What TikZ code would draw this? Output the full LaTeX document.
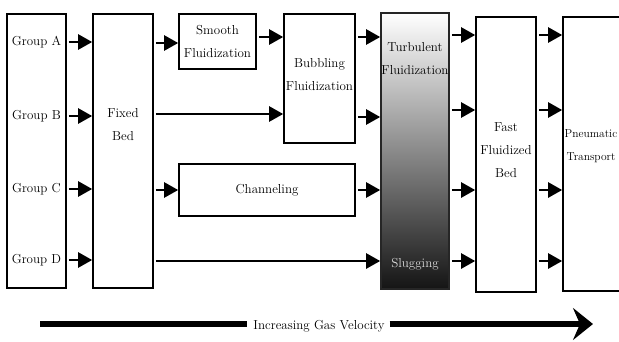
\documentclass[tikz,border=0pt]{standalone}
\usetikzlibrary{arrows.meta}
\begin{document}
\begin{tikzpicture}[x=1pt,y=-1pt,
  box/.style={draw=black, line width=1.6pt, fill=white, inner sep=0pt},
  lbl/.style={font=\fontsize{13}{23}\selectfont, align=center, inner sep=0pt, text=black},
  arr/.style={line width=2.4pt, -{Triangle[length=14pt,width=15pt]}, shorten <=2pt},
  big/.style={line width=6.5pt}
]
\useasboundingbox (0,0) rectangle (619,341);
\clip (0,0) rectangle (619,341);
\fill[white] (0,0) rectangle (619,341);

% boxes
\node[box, minimum width=59pt, minimum height=274pt] (grp) at (36.5,151) {};
\node[box, minimum width=60pt, minimum height=274pt] (fb) at (123,151) {};
\node[box, minimum width=77pt, minimum height=55pt] (sm) at (217.5,41.5) {};
\node[box, minimum width=71pt, minimum height=129pt] (bub) at (319.5,78.5) {};
\node[box, minimum width=176pt, minimum height=52pt] (ch) at (267,190) {};
\node[draw=black!85, line width=1.6pt, inner sep=0pt, minimum width=68pt, minimum height=276pt,
  top color=white, middle color=black!55, bottom color=black!92] (tb) at (415,151) {};
\node[box, minimum width=60pt, minimum height=275pt] (ff) at (506,154.5) {};
\node[box, minimum width=80pt, minimum height=274pt] (pn) at (603,154) {};

% texts
\node[lbl] (ga) at (36.5,42) {Group A};
\node[lbl] (gb) at (36.5,116) {Group B};
\node[lbl] (gc) at (36.5,189) {Group C};
\node[lbl] (gd) at (36.5,260) {Group D};
\node[lbl] (tfb) at (123,125) {Fixed\\Bed};
\node[lbl] (tsm) at (217.5,41.5) {Smooth\\Fluidization};
\node[lbl] (tbub) at (319.5,75) {Bubbling\\Fluidization};
\node[lbl] (tch) at (267,190) {Channeling};
\node[lbl] (ttb) at (415,59) {Turbulent\\Fluidization};
\node[lbl, text=black!15] (tsl) at (415,264) {Slugging};
\node[lbl] (tff) at (506,150) {Fast\\Fluidized\\Bed};
\node[lbl, font=\fontsize{11.5}{23}\selectfont] (tpn) at (591,146) {Pneumatic\\Transport};

% row coordinates
\coordinate (r1) at (0,37);
\coordinate (r2) at (0,114);
\coordinate (r3) at (0,190);
\coordinate (r4) at (0,261);
\coordinate (r1b) at (0,43);
\coordinate (r2b) at (0,117);
\coordinate (r1c) at (0,35);
\coordinate (r2c) at (0,110);

% group -> fixed bed
\draw[arr] (grp.east |- ga) -- (fb.west |- ga);
\draw[arr] (grp.east |- gb) -- (fb.west |- gb);
\draw[arr] (grp.east |- gc) -- (fb.west |- gc);
\draw[arr] (grp.east |- gd) -- (fb.west |- gd);

% fixed bed -> next
\draw[arr] (fb.east |- r1b) -- (sm.west |- r1b);
\draw[arr] (fb.east |- r2) -- (bub.west |- r2);
\draw[arr] (fb.east |- r3) -- (ch.west |- r3);
\draw[arr] (fb.east |- r4) -- (tb.west |- r4);

% smooth -> bubbling
\draw[arr] (sm.east |- r1) -- (bub.west |- r1);
% bubbling -> turbulent
\draw[arr] (bub.east |- r1) -- (tb.west |- r1);
\draw[arr] (bub.east |- r2b) -- (tb.west |- r2b);
% channeling -> turbulent
\draw[arr] (ch.east |- r3) -- (tb.west |- r3);

% turbulent -> fast
\draw[arr] (tb.east |- r1c) -- (ff.west |- r1c);
\draw[arr] (tb.east |- r2c) -- (ff.west |- r2c);
\draw[arr] (tb.east |- r3) -- (ff.west |- r3);
\draw[arr] (tb.east |- r4) -- (ff.west |- r4);

% fast -> pneumatic
\draw[arr] (ff.east |- r1c) -- (pn.west |- r1c);
\draw[arr] (ff.east |- r2c) -- (pn.west |- r2c);
\draw[arr] (ff.east |- r3) -- (pn.west |- r3);
\draw[arr] (ff.east |- r4) -- (pn.west |- r4);

% bottom arrow
\node[lbl] (vel) at (319,326) {Increasing Gas Velocity};
\coordinate (vs) at (40,324);
\coordinate (ve) at (593,324);
\draw[big] (vs) -- ([xshift=-6pt]vel.west |- vs);
\draw[big, -{Stealth[length=20pt,width=32pt,inset=7pt]}] ([xshift=5pt]vel.east |- vs) -- (ve);
\end{tikzpicture}
\end{document}
